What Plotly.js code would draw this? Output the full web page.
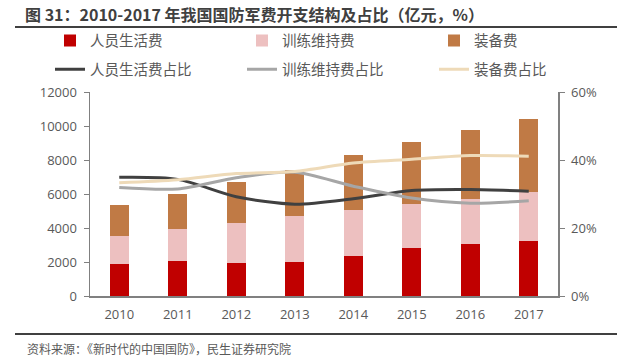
<!DOCTYPE html>
<html>
<head>
<meta charset="utf-8">
<script src="https://cdn.plot.ly/plotly-3.0.1.min.js"></script>
<style>html,body{margin:0;padding:0;background:#fff;}#chart{width:640px;height:357px;}</style>
</head>
<body>
<div id="chart"></div>
<script>
var years = ['2010','2011','2012','2013','2014','2015','2016','2017'];
var personnel = [1859, 2065, 1955, 2002, 2372, 2819, 3060, 3211];
var training  = [1700, 1899, 2330, 2699, 2680, 2615, 2670, 2923];
var equipment = [1774, 2063, 2407, 2709, 3237, 3654, 4036, 4289];
var personnelShare = [0.349, 0.343, 0.292, 0.270, 0.286, 0.310, 0.313, 0.308];
var trainingShare  = [0.319, 0.315, 0.348, 0.364, 0.323, 0.288, 0.273, 0.280];
var equipmentShare = [0.333, 0.342, 0.360, 0.366, 0.391, 0.402, 0.413, 0.411];
var leftTicks = [0, 2000, 4000, 6000, 8000, 10000, 12000];
var rightTicks = [0, 0.2, 0.4, 0.6];

var cjk = '"Noto Sans CJK SC", "Noto Sans", sans-serif';
var num = '"Open Sans", "Noto Sans", sans-serif';
var bw = 0.33;

var traces = [
  {type:'bar', x:years, y:personnel, name:'人员生活费', marker:{color:'#C00000'}, width:bw, legend:'legend', legendgroup:'a1'},
  {type:'bar', x:years, y:training, name:'训练维持费', marker:{color:'#EDC0C0'}, width:bw, legend:'legend2', legendgroup:'b1'},
  {type:'bar', x:years, y:equipment, name:'装备费', marker:{color:'#C07A45'}, width:bw, legend:'legend3', legendgroup:'c1'},
  {type:'scatter', mode:'lines', x:years, y:personnelShare, yaxis:'y2', name:'人员生活费占比', line:{color:'#404040', width:3, shape:'spline', smoothing:0.8}, legend:'legend', legendgroup:'a2'},
  {type:'scatter', mode:'lines', x:years, y:trainingShare, yaxis:'y2', name:'训练维持费占比', line:{color:'#A6A6A6', width:3, shape:'spline', smoothing:0.8}, legend:'legend2', legendgroup:'b2'},
  {type:'scatter', mode:'lines', x:years, y:equipmentShare, yaxis:'y2', name:'装备费占比', line:{color:'#EEDAB8', width:3, shape:'spline', smoothing:0.8}, legend:'legend3', legendgroup:'c2'}
];

var T = 92, B = 296, L = 90, R = 558;
function px(x){ return (x - L) / (R - L); }
function py(y){ return (B - y) / (B - T); }

function mkLegend(left){
  return {orientation:'v', xanchor:'left', yanchor:'middle', x:px(left), y:py(55),
    font:{family:cjk, size:14.5, color:'#595959'}, tracegroupgap:7,
    bgcolor:'rgba(0,0,0,0)', traceorder:'grouped'};
}

var layout = {
  width:640, height:357,
  margin:{l:L, r:640-R, t:T, b:357-B, pad:0},
  paper_bgcolor:'#fff', plot_bgcolor:'#fff',
  barmode:'stack', bargap:0,
  showlegend:true,
  title:{text:'<b>图 31：2010-2017 年我国国防军费开支结构及占比（亿元，%）</b>', x:25/640, xref:'container', xanchor:'left', y:1-15/357, yref:'container', yanchor:'middle', font:{family:cjk, size:16, color:'#404040'}},
  legend:mkLegend(50),
  legend2:mkLegend(242),
  legend3:mkLegend(434),
  xaxis:{type:'category', range:[-0.5, 7.5], showline:true, linecolor:'#808080', linewidth:1.5, ticks:'', showgrid:false, zeroline:false,
    tickfont:{family:num, size:13, color:'#595959'}, ticklabelstandoff:6, fixedrange:true},
  yaxis:{range:[0,12000], tickvals:leftTicks, ticktext:leftTicks.map(String), showline:true, linecolor:'#808080', linewidth:1.5, ticks:'outside', ticklen:5, tickcolor:'#808080',
    showgrid:false, zeroline:false, tickfont:{family:num, size:13, color:'#595959'}, ticklabelstandoff:4},
  yaxis2:{range:[0,0.6], overlaying:'y', side:'right', tickvals:rightTicks, tickformat:'.0%', showline:true, linecolor:'#808080', linewidth:1.5, ticks:'outside', ticklen:5, tickcolor:'#808080',
    showgrid:false, zeroline:false, tickfont:{family:num, size:13, color:'#595959'}, ticklabelstandoff:4},
  shapes:[
    {type:'line', xref:'paper', yref:'paper', x0:px(15), x1:px(617), y0:py(27), y1:py(27), line:{color:'#404040', width:2}},
    {type:'line', xref:'paper', yref:'paper', x0:px(15), x1:px(617), y0:py(334), y1:py(334), line:{color:'#404040', width:2}}
  ],
  annotations:[
    {text:'资料来源：《新时代的中国国防》，民生证券研究院', xref:'paper', yref:'paper', x:px(25), y:py(348), xanchor:'left', yanchor:'middle', showarrow:false, font:{family:cjk, size:12, color:'#595959'}}
  ]
};

Plotly.newPlot('chart', traces, layout, {displayModeBar:false, staticPlot:true});
</script>
</body>
</html>
